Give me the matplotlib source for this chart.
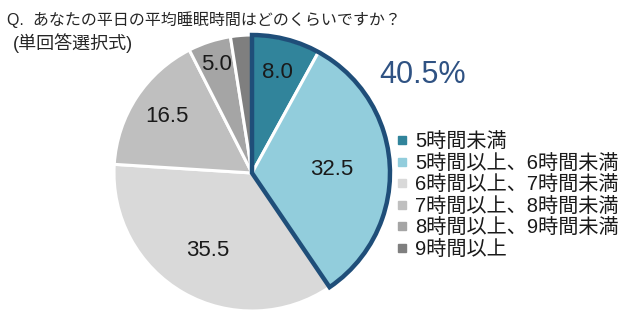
import matplotlib
matplotlib.use('Agg')
import matplotlib.pyplot as plt
from matplotlib.patches import Wedge
from matplotlib.lines import Line2D
import numpy as np

plt.rcParams['font.family'] = ['Liberation Sans', 'Noto Sans CJK JP', 'DejaVu Sans']

# Data
categories = ['5時間未満', '5時間以上、6時間未満', '6時間以上、7時間未満',
              '7時間以上、8時間未満', '8時間以上、9時間未満', '9時間以上']
values = [8.0, 32.5, 35.5, 16.5, 5.0, 2.5]
value_labels = ['8.0', '32.5', '35.5', '16.5', '5.0', '']
highlight_label = '40.5%'
title_line1 = 'Q.  あなたの平日の平均睡眠時間はどのくらいですか？'
title_line2 = '(単回答選択式)'

colors = ['#31849B', '#92CDDC', '#D9D9D9', '#BFBFBF', '#A5A5A5', '#7F7F7F']
label_radius = [0.75, 0.58, 0.65, 0.74, 0.83, 0.8]
navy = '#1F4E79'

fig = plt.figure(figsize=(6.4, 3.21), dpi=100)
ax = fig.add_axes([0, 0, 1, 1])

center = (252, 148)
radius = 138

wedges, _ = ax.pie(values, colors=colors, startangle=90, counterclock=False,
                   center=center, radius=radius,
                   wedgeprops=dict(edgecolor='white', linewidth=2.2))

# value labels inside the slices
for w, lab, rf in zip(wedges, value_labels, label_radius):
    ang = np.deg2rad((w.theta1 + w.theta2) / 2)
    x = center[0] + radius * rf * np.cos(ang)
    y = center[1] + radius * rf * np.sin(ang)
    ax.text(x, y, lab, ha='center', va='center', fontsize=16, color='#1a1a1a')

# outline around the first two slices (40.5%)
outline = Wedge(center, radius, wedges[1].theta1, wedges[0].theta2,
                fill=False, edgecolor=navy, linewidth=3.2, joinstyle='miter')
ax.add_patch(outline)
ax.text(423, 321 - 75, highlight_label, ha='center', va='center',
        fontsize=22, color='#2F5283')

ax.set_xlim(0, 640)
ax.set_ylim(0, 321)
ax.set_aspect('equal')
ax.axis('off')

# title lines
fig.text(7 / 640, 1 - 20 / 321, title_line1, ha='left', va='center',
         fontsize=11.5, color='#262626')
fig.text(13 / 640, 1 - 43 / 321, title_line2, ha='left', va='center',
         fontsize=13, color='#262626')

handles = [Line2D([], [], marker='s', linestyle='', color=c, markersize=6)
           for c in colors]
ax.legend(handles, categories, loc='upper left',
          bbox_to_anchor=(396 / 640, 1 - 132 / 321),
          bbox_transform=fig.transFigure, frameon=False,
          fontsize=14.5, handlelength=0.6, handletextpad=0.35,
          labelspacing=0.13, borderpad=0, borderaxespad=0,
          labelcolor='#1a1a1a')

fig.savefig('out.png', dpi=100)
